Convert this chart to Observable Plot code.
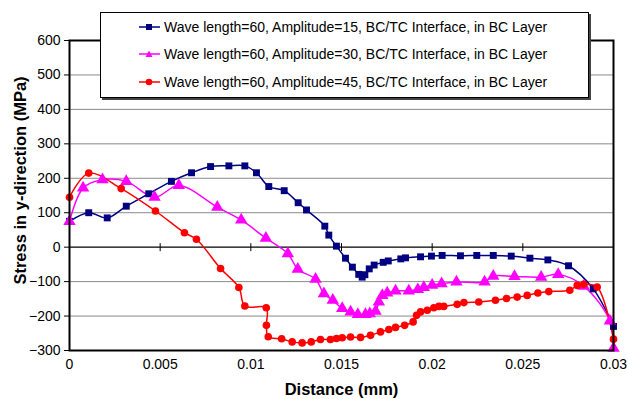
<!DOCTYPE html>
<html>
<head>
<meta charset="utf-8">
<script src="https://cdn.jsdelivr.net/npm/d3@7"></script>
<script src="https://cdn.jsdelivr.net/npm/@observablehq/plot@0.6"></script>
<style>
  body { margin: 0; background: #fff; }
  #wrap { position: relative; width: 628px; height: 399px; font-family: "Liberation Sans", Arial, sans-serif; }
  #legend { position: absolute; left: 100px; top: 12px; width: 487px; height: 84px; background: #fff;
            border: 1px solid #000; box-shadow: 2px 2px 0 #444; font-size: 14px; color: #000; }
  .row { position: absolute; left: 38px; height: 16px; display: flex; align-items: center; white-space: nowrap; }
  .row svg { margin-right: 4px; }
</style>
</head>
<body>
<div id="wrap"><div id="chart"></div><div id="legend"></div></div>
<script>
// ---- Data ----
const seriesNames = [
  "Wave length=60, Amplitude=15, BC/TC Interface, in BC Layer",
  "Wave length=60, Amplitude=30, BC/TC Interface, in BC Layer",
  "Wave length=60, Amplitude=45, BC/TC Interface, in BC Layer"
];
const seriesColors = ["#000080", "#FF00FF", "#FF0000"];
const seriesSymbols = ["square", "triangle", "circle"];

const amp15 = [
  [0, 75], [0.00106, 100], [0.00208, 85], [0.00313, 119], [0.00437, 155], [0.00562, 191],
  [0.00673, 216], [0.00778, 234], [0.00879, 236], [0.00967, 236], [0.01031, 216], [0.01099, 176],
  [0.01184, 164], [0.01261, 129], [0.01307, 108], [0.01408, 61], [0.0143, 35], [0.01472, 3],
  [0.01522, -32], [0.0156, -58], [0.01595, -79], [0.01614, -87], [0.01629, -80], [0.01653, -63],
  [0.0168, -52], [0.0173, -44], [0.01758, -40], [0.01827, -34], [0.01853, -31], [0.01936, -28],
  [0.01996, -26], [0.02055, -24], [0.02156, -25], [0.02246, -24], [0.02337, -24], [0.02436, -26],
  [0.02539, -32], [0.02638, -37], [0.02752, -54], [0.02888, -121], [0.03, -230]
];
const amp30 = [
  [0, 75], [0.00075, 172], [0.00182, 196], [0.00313, 191], [0.00469, 145], [0.00603, 179],
  [0.00815, 116], [0.00947, 79], [0.01083, 26], [0.01204, -19], [0.01259, -64], [0.01357, -93],
  [0.01403, -135], [0.01452, -154], [0.01504, -178], [0.0155, -188], [0.0159, -195], [0.01632, -195],
  [0.01656, -193], [0.01688, -186], [0.01706, -159], [0.01725, -140], [0.01752, -133], [0.01798, -127],
  [0.01871, -127], [0.01921, -123], [0.01954, -117], [0.02, -110], [0.02052, -106], [0.02134, -101],
  [0.02289, -101], [0.02337, -84], [0.02454, -85], [0.02601, -87], [0.02695, -79], [0.02836, -113],
  [0.0298, -214], [0.03, -293]
];
const amp45 = [
  [0, 145], [0.00106, 215], [0.00285, 170], [0.00474, 105], [0.00634, 42], [0.007, 23],
  [0.00833, -62], [0.00934, -117], [0.00967, -171], [0.01085, -176], [0.01086, -227], [0.01096, -260],
  [0.0117, -266], [0.01228, -275], [0.01283, -278], [0.01333, -275], [0.01384, -268], [0.01439, -268],
  [0.01472, -265], [0.01504, -263], [0.0155, -261], [0.01605, -262], [0.0166, -256], [0.01715, -246],
  [0.01761, -239], [0.01798, -233], [0.01848, -227], [0.01895, -217], [0.01914, -198], [0.01936, -188],
  [0.01973, -183], [0.02009, -176], [0.02037, -172], [0.02064, -172], [0.02138, -166], [0.02175, -161],
  [0.02257, -159], [0.02349, -154], [0.0241, -149], [0.02469, -145], [0.02524, -140], [0.02583, -133],
  [0.02643, -129], [0.02759, -125], [0.028, -111], [0.02836, -108], [0.0291, -116], [0.03, -267]
];
const xTicks = [0, 0.005, 0.01, 0.015, 0.02, 0.025, 0.03];
const xTickLabels = ["0", "0.005", "0.01", "0.015", "0.02", "0.025", "0.03"];
const yTicks = [-300, -200, -100, 0, 100, 200, 300, 400, 500, 600];
const xTitle = "Distance (mm)";
const yTitle = "Stress in y-direction (MPa)";

// ---- Build ----
const allSeries = [amp15, amp30, amp45];
const rows = allSeries.flatMap((arr, k) => arr.map(([x, y]) => ({x, y, s: k})));
const gridVals = yTicks.filter(v => v !== 0 && v !== -300 && v !== 600);
const innerXTicks = xTicks.slice(1, -1);
const vTick = { draw(ctx) { ctx.moveTo(0, -4); ctx.lineTo(0, 4); } };

const marks = [
  Plot.ruleY(gridVals, {stroke: "#8a8a8a", strokeWidth: 1}),
  Plot.ruleY([0], {stroke: "#000", strokeWidth: 1.3}),
  Plot.dot(innerXTicks, {x: d => d, y: () => 0, symbol: vTick, stroke: "#000", strokeWidth: 1, fill: "none"}),
];
allSeries.forEach((arr, k) => {
  const data = rows.filter(r => r.s === k);
  marks.push(Plot.line(data, {x: "x", y: "y", stroke: seriesColors[k], strokeWidth: 1.5, curve: "catmull-rom"}));
});
allSeries.forEach((arr, k) => {
  const data = rows.filter(r => r.s === k);
  const r = k === 0 ? 3.9 : k === 1 ? 4.6 : 3.8;
  marks.push(Plot.dot(data, {x: "x", y: "y", symbol: () => seriesSymbols[k], fill: seriesColors[k], stroke: "none", r}));
});
marks.push(Plot.frame({stroke: "#000", strokeWidth: 2}));
marks.push(Plot.text([xTitle], {frameAnchor: "bottom", dy: 39, lineAnchor: "middle", textAnchor: "middle", text: d => d, fontWeight: "bold", fontSize: 16.5}));
marks.push(Plot.text([yTitle], {frameAnchor: "left", dx: -49, dy: -15, rotate: -90, lineAnchor: "middle", textAnchor: "middle", text: d => d, fontWeight: "bold", fontSize: 16.5}));

const chart = Plot.plot({
  width: 628,
  height: 399,
  marginLeft: 69,
  marginRight: 15,
  marginTop: 40,
  marginBottom: 49,
  style: {fontFamily: "'Liberation Sans', Arial, sans-serif", fontSize: "14px", color: "#000", background: "#fff"},
  x: {domain: [0, 0.03], ticks: xTicks, tickFormat: (d) => xTickLabels[xTicks.indexOf(d)], tickSize: 0, tickPadding: 9, label: null},
  y: {domain: [-300, 600], ticks: yTicks, tickSize: 5, tickPadding: 4, label: null},
  marks
});
document.getElementById("chart").appendChild(chart);

// ---- Legend ----
const legend = document.getElementById("legend");
const rowTops = [6, 33, 61];
seriesNames.forEach((name, k) => {
  const row = document.createElement("div");
  row.className = "row";
  row.style.top = rowTops[k] + "px";
  const sym = k === 0 ? '<rect x="7" y="2" width="6" height="6" fill="' + seriesColors[k] + '"/>'
            : k === 1 ? '<path d="M10,1.5 L13.5,8 L6.5,8 Z" fill="' + seriesColors[k] + '"/>'
            : '<circle cx="10" cy="5" r="3.3" fill="' + seriesColors[k] + '"/>';
  row.innerHTML = '<svg width="21" height="10"><line x1="0" y1="5" x2="21" y2="5" stroke="' + seriesColors[k] + '" stroke-width="1.5"/>' + sym + '</svg><span>' + name + '</span>';
  legend.appendChild(row);
});
</script>
</body>
</html>
